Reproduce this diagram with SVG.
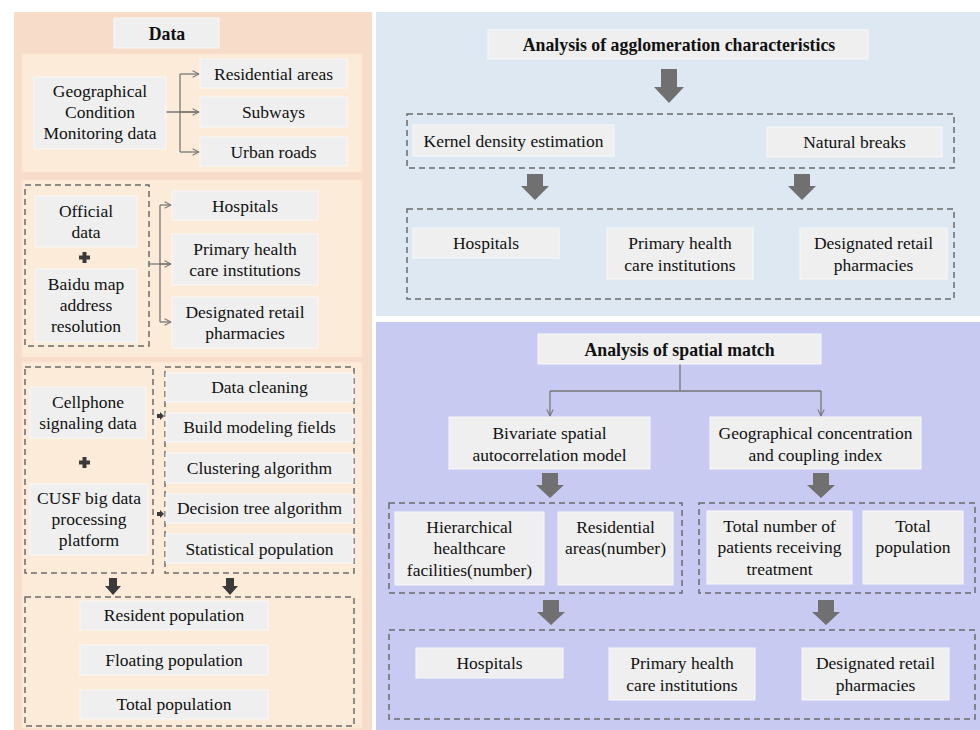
<svg xmlns="http://www.w3.org/2000/svg" width="980" height="730" viewBox="0 0 980 730" font-family="'Liberation Serif', Tinos, 'Times New Roman', Times, 'Noto Serif', 'DejaVu Serif', serif">
<style>
  text { font-family: 'Liberation Serif', Tinos, 'Times New Roman', Times, 'Noto Serif', 'DejaVu Serif', serif; font-size: 17.5px; fill: #111; text-anchor: middle; }
  .b { font-weight: bold; font-size: 17.8px; }
  .box { fill: #efefef; stroke: #f8f8f8; stroke-width: 1; }
  .dash { fill: none; stroke: #6b6b6b; stroke-width: 1.5; stroke-dasharray: 6 4; }
  .sec { fill: #fdebd9; stroke: #fbe4cf; stroke-width: 1; }
  .thin { fill: none; stroke: #777; stroke-width: 1.3; }
  .big { fill: #707070; }
  .dark { fill: #3a3a3a; }
</style>
<defs>
  <marker id="chev" viewBox="0 0 10 10" refX="9" refY="5" markerWidth="8" markerHeight="8" orient="auto" markerUnits="userSpaceOnUse">
    <path d="M1,1 L9,5 L1,9" fill="none" stroke="#777" stroke-width="1.3"/>
  </marker>
</defs>
<rect width="980" height="730" fill="#ffffff"/>
<!-- panels -->
<rect x="14" y="12" width="358" height="718" fill="#f6dcc9"/>
<rect x="376" y="12" width="604" height="304" fill="#dee8f3"/>
<rect x="376" y="322" width="604" height="408" fill="#c8caf2"/>
<rect class="sec" x="22" y="54" width="340" height="118"/>
<rect class="sec" x="22" y="180" width="340" height="177"/>
<rect class="sec" x="22" y="362" width="340" height="366"/>

<g id="connectors">
  <!-- section 1 -->
  <path class="thin" d="M166,112 H199"/>
  <path class="thin" d="M180,74 V152"/>
  <path class="thin" d="M180,74 H199" marker-end="url(#chev)"/>
  <path class="thin" d="M180,112 H199" marker-end="url(#chev)"/>
  <path class="thin" d="M180,152 H199" marker-end="url(#chev)"/>
  <!-- section 2 -->
  <path class="thin" d="M149,264 H171"/>
  <path class="thin" d="M160,205 V322"/>
  <path class="thin" d="M160,205 H171" marker-end="url(#chev)"/>
  <path class="thin" d="M160,264 H171" marker-end="url(#chev)"/>
  <path class="thin" d="M160,322 H171" marker-end="url(#chev)"/>
  <!-- section 3 small arrows -->
  <polygon class="dark" points="157,414 160,414 160,412 164,416 160,420 160,418 157,418"/>
  <polygon class="dark" points="157,512 160,512 160,510 164,514 160,518 160,516 157,516"/>
  <polygon class="dark" points="109,578 117,578 117,586 121,586 113,595 105,586 109,586"/>
  <polygon class="dark" points="226,578 234,578 234,586 238,586 230,595 222,586 226,586"/>
  <!-- blue panel -->
  <polygon class="big" points="661,69 677,69 677,87 684,87 669,103 654,87 661,87"/>
  <polygon class="big" points="527,174 543,174 543,186 549,186 535,200 521,186 527,186"/>
  <polygon class="big" points="794,174 810,174 810,186 816,186 802,200 788,186 794,186"/>
  <!-- lavender panel -->
  <path class="thin" d="M680,364 V391 M550,391 H821" stroke="#555"/>
  <path class="thin" d="M550,391 V416" marker-end="url(#chev)"/>
  <path class="thin" d="M821,391 V416" marker-end="url(#chev)"/>
  <polygon class="big" points="542,473 558,473 558,485 564,485 550,498 536,485 542,485"/>
  <polygon class="big" points="813,473 829,473 829,485 835,485 821,498 807,485 813,485"/>
  <polygon class="big" points="543,600 559,600 559,612 565,612 551,625 537,612 543,612"/>
  <polygon class="big" points="818,600 834,600 834,612 840,612 826,625 812,612 818,612"/>
</g>

<!-- dashed groups -->
<rect class="dash" x="25" y="185" width="124" height="161"/>
<rect class="dash" x="25" y="367" width="128" height="206"/>
<rect class="dash" x="165" y="367" width="189" height="206"/>
<rect class="dash" x="25" y="597" width="329" height="129"/>
<rect class="dash" x="407" y="114" width="547" height="54"/>
<rect class="dash" x="407" y="209" width="547" height="90"/>
<rect class="dash" x="389" y="503" width="293" height="90"/>
<rect class="dash" x="699" y="503" width="276" height="90"/>
<rect class="dash" x="389" y="630" width="586" height="89"/>

<!-- left nodes -->
<g id="data-title"><rect class="box" x="114" y="18" width="105" height="30"/><text class="b" x="167" y="40">Data</text></g>
<g id="gcm"><rect class="box" x="34" y="77" width="132" height="72"/><text x="100" y="97">Geographical</text><text x="100" y="118">Condition</text><text x="100" y="139">Monitoring data</text></g>
<g id="res-areas"><rect class="box" x="200" y="59" width="147" height="29"/><text x="273.5" y="80">Residential areas</text></g>
<g id="subways"><rect class="box" x="200" y="97" width="147" height="30"/><text x="273.5" y="118">Subways</text></g>
<g id="urban-roads"><rect class="box" x="200" y="137" width="147" height="29"/><text x="273.5" y="158">Urban roads</text></g>

<g id="official"><rect class="box" x="35" y="196" width="102" height="51"/><text x="86" y="217">Official</text><text x="86" y="238">data</text></g>
<path class="dark" d="M82.5,252 h4 v3.5 h3.5 v4 h-3.5 v3.5 h-4 v-3.5 h-3.5 v-4 h3.5 z"/>
<g id="baidu"><rect class="box" x="35" y="269" width="102" height="73"/><text x="86" y="290">Baidu map</text><text x="86" y="311">address</text><text x="86" y="332">resolution</text></g>
<g id="hospitals-l"><rect class="box" x="172" y="191" width="146" height="29"/><text x="245" y="212">Hospitals</text></g>
<g id="primary-l"><rect class="box" x="172" y="234" width="146" height="51"/><text x="245" y="255">Primary health</text><text x="245" y="276">care institutions</text></g>
<g id="pharm-l"><rect class="box" x="172" y="297" width="146" height="51"/><text x="245" y="318">Designated retail</text><text x="245" y="339">pharmacies</text></g>

<g id="cellphone"><rect class="box" x="30" y="387" width="116" height="51"/><text x="88" y="408">Cellphone</text><text x="88" y="429">signaling data</text></g>
<path class="dark" d="M82.5,457 h4 v3.5 h3.5 v4 h-3.5 v3.5 h-4 v-3.5 h-3.5 v-4 h3.5 z"/>
<g id="cusf"><rect class="box" x="30" y="484" width="118" height="71"/><text x="89" y="504">CUSF big data</text><text x="89" y="525">processing</text><text x="89" y="546">platform</text></g>
<g id="cleaning"><rect class="box" x="166" y="373" width="187" height="29"/><text x="259.5" y="393">Data cleaning</text></g>
<g id="modeling"><rect class="box" x="166" y="413" width="187" height="29"/><text x="259.5" y="433">Build modeling fields</text></g>
<g id="clustering"><rect class="box" x="166" y="453" width="187" height="30"/><text x="259.5" y="474">Clustering algorithm</text></g>
<g id="decision"><rect class="box" x="166" y="494" width="187" height="29"/><text x="259.5" y="514">Decision tree algorithm</text></g>
<g id="statistical"><rect class="box" x="166" y="534" width="187" height="29"/><text x="259.5" y="555">Statistical population</text></g>

<g id="resident"><rect class="box" x="80" y="601" width="188" height="29"/><text x="174" y="621">Resident population</text></g>
<g id="floating"><rect class="box" x="80" y="645" width="188" height="30"/><text x="174" y="666">Floating population</text></g>
<g id="total-l"><rect class="box" x="80" y="690" width="188" height="29"/><text x="174" y="710">Total population</text></g>

<!-- blue panel nodes -->
<g id="agglo-title"><rect class="box" x="488" y="30" width="380" height="29"/><text class="b" x="679" y="51">Analysis of agglomeration characteristics</text></g>
<g id="kde"><rect class="box" x="413" y="125" width="201" height="31"/><text x="513.5" y="147">Kernel density estimation</text></g>
<g id="natural"><rect class="box" x="767" y="127" width="175" height="30"/><text x="854.5" y="148">Natural breaks</text></g>
<g id="hospitals-a"><rect class="box" x="413" y="228" width="146" height="30"/><text x="486" y="249">Hospitals</text></g>
<g id="primary-a"><rect class="box" x="607" y="228" width="146" height="51"/><text x="680" y="249">Primary health</text><text x="680" y="271">care institutions</text></g>
<g id="pharm-a"><rect class="box" x="800" y="228" width="147" height="51"/><text x="873.5" y="249">Designated retail</text><text x="873.5" y="271">pharmacies</text></g>

<!-- lavender panel nodes -->
<g id="spatial-title"><rect class="box" x="538" y="334" width="283" height="30"/><text class="b" x="679.5" y="356">Analysis of spatial match</text></g>
<g id="bivariate"><rect class="box" x="449" y="417" width="201" height="52"/><text x="549.5" y="439">Bivariate spatial</text><text x="549.5" y="461">autocorrelation model</text></g>
<g id="geoconc"><rect class="box" x="710" y="417" width="211" height="52"/><text x="815.5" y="439">Geographical concentration</text><text x="815.5" y="461">and coupling index</text></g>
<g id="hierarchical"><rect class="box" x="395" y="512" width="149" height="73"/><text x="469.5" y="533">Hierarchical</text><text x="469.5" y="554">healthcare</text><text x="469.5" y="576">facilities(number)</text></g>
<g id="res-number"><rect class="box" x="558" y="512" width="115" height="73"/><text x="615.5" y="533">Residential</text><text x="615.5" y="554">areas(number)</text></g>
<g id="patients"><rect class="box" x="707" y="511" width="145" height="73"/><text x="779.5" y="532">Total number of</text><text x="779.5" y="553">patients receiving</text><text x="779.5" y="575">treatment</text></g>
<g id="total-r"><rect class="box" x="863" y="511" width="100" height="73"/><text x="913" y="532">Total</text><text x="913" y="553">population</text></g>
<g id="hospitals-s"><rect class="box" x="416" y="648" width="147" height="30"/><text x="489.5" y="669">Hospitals</text></g>
<g id="primary-s"><rect class="box" x="609" y="648" width="146" height="52"/><text x="682" y="669">Primary health</text><text x="682" y="691">care institutions</text></g>
<g id="pharm-s"><rect class="box" x="802" y="648" width="147" height="52"/><text x="875.5" y="669">Designated retail</text><text x="875.5" y="691">pharmacies</text></g>
</svg>
